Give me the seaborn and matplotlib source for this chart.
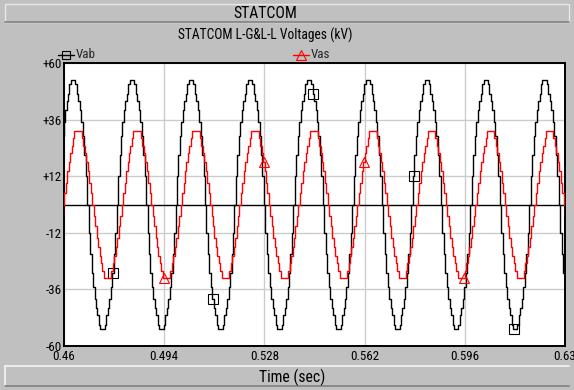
import numpy as np
import pandas as pd
import matplotlib
matplotlib.use("Agg")
import matplotlib.pyplot as plt
from matplotlib import font_manager
from matplotlib.lines import Line2D
from matplotlib.patches import Rectangle
import seaborn as sns

# ---- data -------------------------------------------------------------
# One 50 Hz cycle of each staircase voltage (kV), sampled every 0.5 ms,
# starting at the positive peak of that waveform.
sample_step = 0.0005
period = 0.02
vab_cycle = [53, 53, 51, 47, 44, 40, 35, 29, 21, 12, 0, -12, -21, -29, -35, -40, -44, -47, -51, -53,
             -53, -53, -51, -47, -44, -40, -35, -29, -21, -12, 0, 12, 21, 29, 35, 40, 44, 47, 51, 53]
vas_cycle = [31, 31, 31, 28, 25, 22, 18, 14, 9, 5, 0, -5, -9, -14, -18, -22, -25, -28, -31, -31,
             -31, -31, -31, -28, -25, -22, -18, -14, -9, -5, 0, 5, 9, 14, 18, 22, 25, 28, 31, 31]
vab_first_peak = 0.4631   # s
vas_first_peak = 0.4648   # s
n_cycles = 10

# marker instants along each trace
vab_marks = [0.4766, 0.5106, 0.5446, 0.5786, 0.6126]
vas_marks = [0.494, 0.528, 0.562, 0.596]

x_ticks = [0.46, 0.494, 0.528, 0.562, 0.596, 0.63]
x_tick_labels = ["0.46", "0.494", "0.528", "0.562", "0.596", "0.63"]
y_ticks = [-60, -36, -12, 12, 36, 60]
y_tick_labels = ["-60", "-36", "-12", "+12", "+36", "+60"]


def build_trace(cycle, first_peak):
    vals = np.tile(np.asarray(cycle, float), n_cycles)
    start = first_peak - period
    t = start + sample_step * np.arange(vals.size)
    return pd.DataFrame({"t": t, "v": vals})


vab = build_trace(vab_cycle, vab_first_peak)
vas = build_trace(vas_cycle, vas_first_peak)


def mark_index(df, times):
    return [int(np.argmin(np.abs(df["t"].values - tm))) for tm in times]


# ---- fonts: prefer a narrow sans face ----------------------------------
sns.set_style("white")
installed = {(f.name, f.stretch) for f in font_manager.fontManager.ttflist}
names = {n for n, _ in installed}
narrow_family = None
narrow_stretch = "normal"
scale = 0.78
if "Liberation Sans Narrow" in names:
    narrow_family = "Liberation Sans Narrow"
elif "Roboto Condensed" in names:
    narrow_family = "Roboto Condensed"
else:
    for fam in ["DejaVu Sans", "Noto Sans", "Open Sans"]:
        if any(n == fam and s in ("condensed", "semi-condensed", 87.5, 75) for n, s in installed):
            narrow_family = fam
            narrow_stretch = "condensed"
            scale = 0.74
            break
if narrow_family is None:
    narrow_family = "Liberation Sans"
    scale = 0.62

plt.rcParams["font.family"] = [narrow_family, "Liberation Sans", "DejaVu Sans"]
plt.rcParams["font.stretch"] = narrow_stretch

W, H = 574, 390
fig = plt.figure(figsize=(W / 100, H / 100), dpi=100, facecolor="#c0c0c0")


def fx(px):
    return px / W


def fy(py):
    return 1 - py / H


# header / footer panels
fig.patches.append(Rectangle((fx(5), fy(22)), fx(564), 18 / H, transform=fig.transFigure,
                             facecolor="#c0c0c0", edgecolor="#e8e8e8", lw=1, zorder=0))
fig.add_artist(Line2D([fx(5), fx(569)], [fy(22), fy(22)], transform=fig.transFigure,
                      color="#808080", lw=1.2))
fig.add_artist(Line2D([fx(5), fx(569)], [fy(366), fy(366)], transform=fig.transFigure,
                      color="#f4f4f4", lw=1.2))
fig.add_artist(Line2D([fx(5), fx(5)], [fy(366), fy(386)], transform=fig.transFigure,
                      color="#f4f4f4", lw=1.2))
fig.add_artist(Line2D([fx(5), fx(569)], [fy(386), fy(386)], transform=fig.transFigure,
                      color="#808080", lw=1.2))

fig.text(fx(265), fy(13), "STATCOM", ha="center", va="center", fontsize=14.5 * scale,
         color="black")
fig.text(fx(265), fy(35), "STATCOM L-G&L-L Voltages (kV)", ha="center", va="center",
         fontsize=12.5 * scale, color="black")
fig.text(fx(292), fy(377), "Time (sec)", ha="center", va="center", fontsize=14.5 * scale,
         color="black")

ax = fig.add_axes([fx(64), fy(346), fx(565) - fx(64), (346 - 63) / H])
ax.set_facecolor("white")

sns.lineplot(data=vab, x="t", y="v", ax=ax, color="black", lw=1.0, drawstyle="steps-mid",
             estimator=None, sort=False, marker="s", markevery=mark_index(vab, vab_marks),
             markersize=7, markerfacecolor="none", markeredgecolor="black",
             markeredgewidth=0.8, zorder=3)
sns.lineplot(data=vas, x="t", y="v", ax=ax, color="red", lw=1.0, drawstyle="steps-mid",
             estimator=None, sort=False, marker="^", markevery=mark_index(vas, vas_marks),
             markersize=7.5, markerfacecolor="none", markeredgecolor="red",
             markeredgewidth=0.8, zorder=4)

ax.axhline(0, color="black", lw=1.0, zorder=2)
ax.set_xlim(0.46, 0.63)
ax.set_ylim(-60, 60)
ax.set_xticks(x_ticks)
ax.set_xticklabels(x_tick_labels)
ax.set_yticks(y_ticks)
ax.set_yticklabels(y_tick_labels)
ax.set_xlabel("")
ax.set_ylabel("")
ax.grid(True, color="#cccccc", lw=1.0, zorder=1)
ax.tick_params(axis="both", direction="in", length=3, width=1, color="#888888",
               labelsize=12 * scale, pad=1.5, labelcolor="black")
ax.tick_params(axis="x", pad=3)
for s in ax.spines.values():
    s.set_visible(True)
    s.set_color("black")
    s.set_linewidth(1.4)

# legend entries above the plot
fig.add_artist(Line2D([fx(58), fx(74)], [fy(55), fy(55)], transform=fig.transFigure,
                      color="black", lw=1.0))
fig.add_artist(Line2D([fx(66)], [fy(55)], transform=fig.transFigure, color="black",
                      marker="s", markersize=6, markerfacecolor="none", markeredgewidth=0.8,
                      ls="none"))
fig.text(fx(76), fy(55), "Vab", ha="left", va="center", fontsize=12 * scale)
fig.add_artist(Line2D([fx(293), fx(309)], [fy(55), fy(55)], transform=fig.transFigure,
                      color="red", lw=1.0))
fig.add_artist(Line2D([fx(301)], [fy(55)], transform=fig.transFigure, color="red",
                      marker="^", markersize=7, markerfacecolor="none", markeredgewidth=0.8,
                      ls="none"))
fig.text(fx(311), fy(55), "Vas", ha="left", va="center", fontsize=12 * scale)

fig.savefig("out.png", dpi=100, facecolor=fig.get_facecolor())
